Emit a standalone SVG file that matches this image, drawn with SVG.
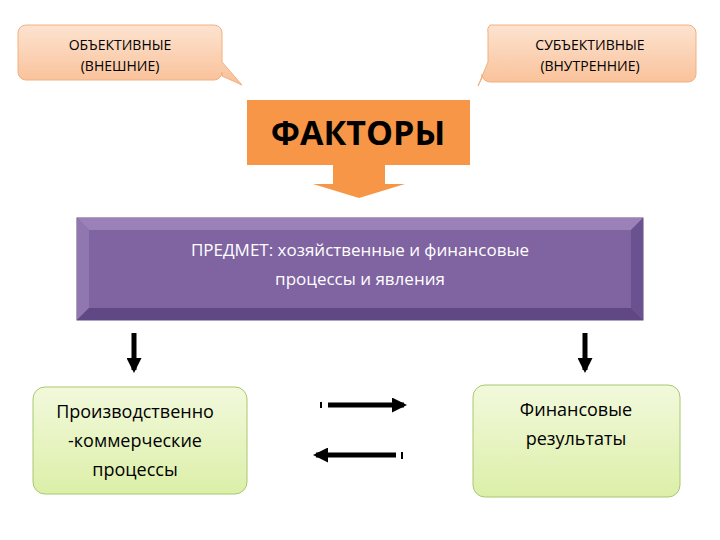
<svg xmlns="http://www.w3.org/2000/svg" width="720" height="540" viewBox="0 0 720 540">
<style>
text{font-family:"Open Sans","Noto Sans",sans-serif;text-anchor:middle}
.call{fill:url(#og);stroke:#f0b080;stroke-width:1}
.ct{font-size:14px;fill:#000}
.gt{font-size:18px;fill:#000}
.green{fill:url(#gg);stroke:#a8c870;stroke-width:1}
.arr{stroke:#000;stroke-width:5;fill:none}
</style>
<defs>
<linearGradient id="og" x1="0" y1="0" x2="0" y2="1"><stop offset="0" stop-color="#fde3d0"/><stop offset="1" stop-color="#f9c097"/></linearGradient>
<linearGradient id="gg" x1="0" y1="0" x2="0" y2="1"><stop offset="0" stop-color="#f2f9dc"/><stop offset="1" stop-color="#dcefa8"/></linearGradient>
<marker id="ah" viewBox="0 0 10 10" refX="8" refY="5" markerWidth="3" markerHeight="3" orient="auto"><path d="M0,0L10,5L0,10z" fill="#000"/></marker>
</defs>
<g id="objective">
<path class="call" d="M26,25H214a8,8 0 0 1 8,8V62L242,85L222,76V72a8,8 0 0 1 -8,8H26a8,8 0 0 1 -8,-8V33a8,8 0 0 1 8,-8z"/>
<text class="ct" x="120" y="50">ОБЪЕКТИВНЫЕ</text>
<text class="ct" x="120" y="71">(ВНЕШНИЕ)</text>
</g>
<g id="subjective">
<path class="call" d="M490,25H688a8,8 0 0 1 8,8V74a8,8 0 0 1 -8,8H490a8,8 0 0 1 -8,-8V78L478,86L488,62V33a8,8 0 0 1 2,-8z"/>
<text class="ct" x="590" y="50">СУБЪЕКТИВНЫЕ</text>
<text class="ct" x="590" y="71">(ВНУТРЕННИЕ)</text>
</g>
<g id="factors">
<rect x="247" y="100" width="223" height="65" fill="#f79646"/>
<path d="M333,165H385V184H405L359,198L313,184H333z" fill="#f79646"/>
<text x="358" y="145" font-size="34" font-weight="bold" fill="#000">ФАКТОРЫ</text>
</g>
<g id="subject">
<rect x="77" y="218" width="566" height="102" fill="#8064a2" stroke="#5c4680"/>
<path d="M77,218H643L631,230H89z" fill="#9a82b8"/>
<path d="M77,218V320L89,308V230z" fill="#9077b0"/>
<path d="M643,218V320L631,308V230z" fill="#6a5290"/>
<path d="M77,320H643L631,308H89z" fill="#5f4883"/>
<text x="360" y="256" font-size="17" fill="#fff">ПРЕДМЕТ: хозяйственные и финансовые</text>
<text x="360" y="285" font-size="17" fill="#fff">процессы  и явления</text>
</g>
<g id="production">
<rect class="green" x="33" y="387" width="214" height="107" rx="12"/>
<text class="gt" x="135" y="418">Производственно</text>
<text class="gt" x="135" y="447">-коммерческие</text>
<text class="gt" x="135" y="476">процессы</text>
</g>
<g id="financial">
<rect class="green" x="473" y="385" width="207" height="112" rx="12"/>
<text class="gt" x="576" y="416">Финансовые</text>
<text class="gt" x="576" y="445">результаты</text>
</g>
<g id="connectors">
<line class="arr" x1="134" y1="333" x2="134" y2="370" marker-end="url(#ah)"/>
<line class="arr" x1="585" y1="333" x2="585" y2="370" marker-end="url(#ah)"/>
<line class="arr" x1="328" y1="405" x2="404" y2="405" marker-end="url(#ah)"/>
<line x1="321" y1="402" x2="321" y2="408" stroke="#000" stroke-width="2"/>
<line class="arr" x1="396" y1="455" x2="316" y2="455" marker-end="url(#ah)"/>
<line x1="402" y1="452" x2="402" y2="459" stroke="#000" stroke-width="2"/>
</g>
</svg>
